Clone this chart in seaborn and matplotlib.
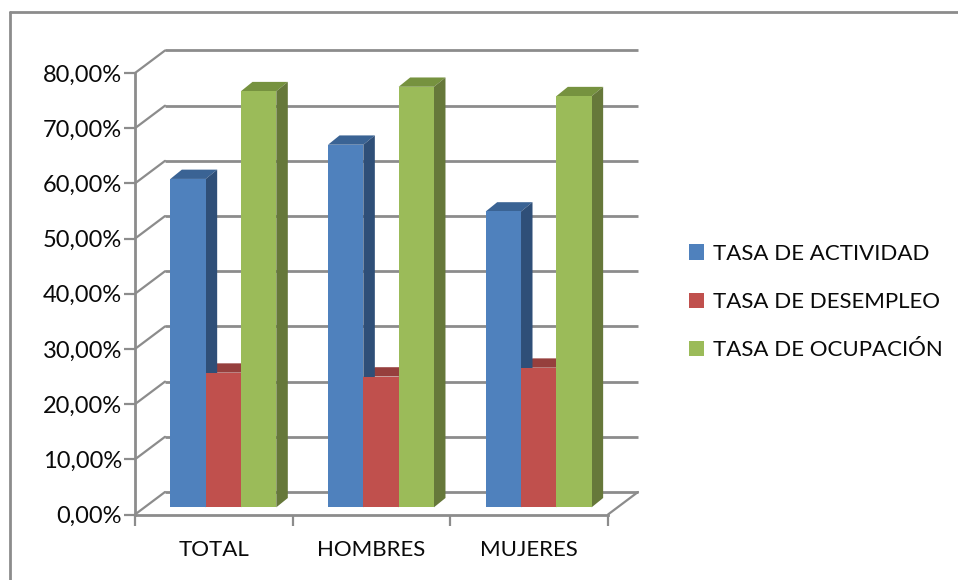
import matplotlib
matplotlib.use('Agg')
import matplotlib.pyplot as plt
from matplotlib.lines import Line2D
from matplotlib.patches import Polygon, Patch
from matplotlib.transforms import ScaledTranslation
import pandas as pd
import seaborn as sns

categories = ['TOTAL', 'HOMBRES', 'MUJERES']
actividad = [59.5, 65.7, 53.6]
desempleo = [24.4, 23.7, 25.3]
ocupacion = [75.4, 76.2, 74.5]
series_names = ['TASA DE ACTIVIDAD', 'TASA DE DESEMPLEO', 'TASA DE OCUPACIÓN']
y_ticks = [0, 10, 20, 30, 40, 50, 60, 70, 80]

colors = ['#4F81BD', '#C0504D', '#9BBB59']
side_colors = ['#2F4F78', '#7F3533', '#66783A']
top_colors = ['#3A6394', '#963F3D', '#76923F']
GRAY = '#8C8C8C'
W, H = 958, 580

sns.set_theme(style='white')
plt.rcParams['font.family'] = ['Lato', 'DejaVu Sans']

df = pd.DataFrame({
    'grupo': categories * 3,
    'tasa': [series_names[0]] * 3 + [series_names[1]] * 3 + [series_names[2]] * 3,
    'valor': actividad + desempleo + ocupacion,
})

fig = plt.figure(figsize=(W / 100, H / 100), dpi=100, facecolor='white')
# front plane of the fake 3d box, pixel box from the picture
ax = fig.add_axes([135 / W, 1 - 514.5 / H, 473 / W, 441.5 / H])


def shift(dx, dy):
    # pixels -> offset on top of the data transform
    return ax.transData + ScaledTranslation(dx / 100, -dy / 100, fig.dpi_scale_trans)


sns.barplot(data=df, x='grupo', y='valor', hue='tasa', order=categories,
            hue_order=series_names, palette=colors, width=0.672, gap=0,
            saturation=1, legend=False, ax=ax, zorder=3)
ax.set_xlim(-0.5, 2.5)
ax.set_ylim(0, 80)
ax.set_xlabel('')
ax.set_ylabel('')

# back wall grid and the diagonals to the axis
for v in y_ticks:
    ax.plot([-0.5, 2.5], [v, v], color=GRAY, lw=2, transform=shift(30, -22.5),
            zorder=1, clip_on=False, solid_capstyle='butt')
    ax.plot([-0.5, -0.5 + 30 / (473 / 3)], [v, v + 22.5 / (441.5 / 80)], color=GRAY,
            lw=1.6, zorder=1, clip_on=False)
ax.plot([2.5, 2.5 + 30 / (473 / 3)], [0, 22.5 / (441.5 / 80)], color=GRAY, lw=1.6,
        zorder=1, clip_on=False)

# bar faces, built from the bars seaborn drew
px_x = 473 / 3
px_y = 441.5 / 80
depth_x = 11.5 / px_x
depth_y = 9.3 / px_y
base = shift(9.5, -7.2)
for k, bar in enumerate(ax.patches):
    i = k // 3
    bar.set_transform(base)
    bar.set_edgecolor('none')
    x0, x1 = bar.get_x(), bar.get_x() + bar.get_width()
    top = bar.get_height()
    ax.add_patch(Polygon([(x1, 0), (x1 + depth_x, depth_y), (x1 + depth_x, top + depth_y), (x1, top)],
                         facecolor=side_colors[i], edgecolor='none', transform=base,
                         zorder=2.5, clip_on=False))
    # top goes under the next bar's front and the previous bar's side
    ax.add_patch(Polygon([(x0, top), (x0 + depth_x, top + depth_y), (x1 + depth_x, top + depth_y), (x1, top)],
                         facecolor=top_colors[i], edgecolor='none', transform=base,
                         zorder=2.4, clip_on=False))
    bar.set_clip_on(False)

sns.despine(ax=ax, top=True, right=True)
for side in ['left', 'bottom']:
    ax.spines[side].set_color(GRAY)
    ax.spines[side].set_linewidth(2)
    ax.spines[side].set_zorder(4)

ax.set_yticks(y_ticks)
ax.set_yticklabels([f'{v},00%' for v in y_ticks], fontsize=17, color='#0A0A0A')
ax.set_xticks([-0.5, 0.5, 1.5, 2.5], minor=False)
ax.set_xticklabels(['', '', '', ''])
ax.tick_params(axis='both', length=8, width=1.6, color=GRAY, left=True, bottom=True, pad=1.5)
for i, name in enumerate(categories):
    ax.text(i, -6.5, name, ha='center', va='center', fontsize=16, color='#0A0A0A',
            transform=ax.transData)

handles = [Patch(facecolor=c, edgecolor='none') for c in colors]
fig.legend(handles, series_names, loc='center left', bbox_to_anchor=(689 / W, 1 - 302 / H),
           frameon=False, fontsize=16, handlelength=0.675, handleheight=0.675,
           handletextpad=0.4, labelspacing=1.27, borderpad=0, borderaxespad=0,
           labelcolor='#0A0A0A')

# outer chart frame
fig.add_artist(Line2D([9.5 / W, 9.5 / W], [0, 1 - 12 / H], color=GRAY, lw=2))
fig.add_artist(Line2D([9.5 / W, 1], [1 - 12 / H, 1 - 12 / H], color=GRAY, lw=2))

fig.savefig('out.png', dpi=100)
